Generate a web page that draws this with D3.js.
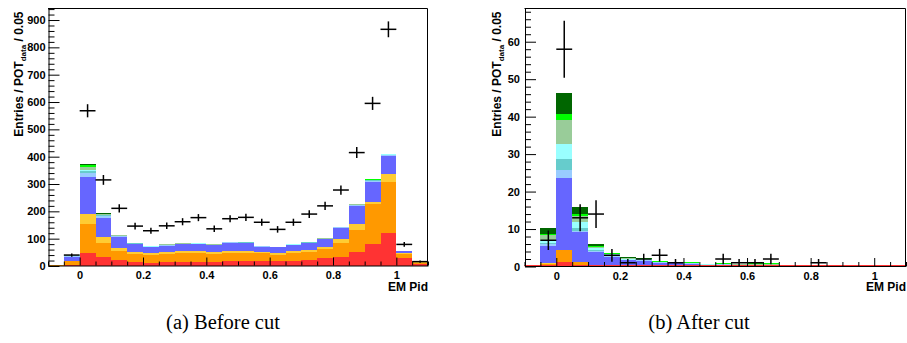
<!DOCTYPE html>
<html><head><meta charset="utf-8">
<script src="https://cdn.jsdelivr.net/npm/d3@7"></script>
<style>body{margin:0;background:#fff} svg{display:block}</style>
</head><body>
<svg id="c" width="907" height="343"></svg>
<script>
// ---------- data ----------
const binLow = [-0.10,-0.05,0.00,0.05,0.10,0.15,0.20,0.25,0.30,0.35,0.40,0.45,0.50,0.55,0.60,0.65,0.70,0.75,0.80,0.85,0.90,0.95,1.00,1.05];
const binWidth = 0.05;
const layerNames  = ["red","orange","yellow","blue","lightblue","teal","cyan","lightgreen","green","darkgreen"];
const layerColors = ["#ff3333","#ff9900","#ffcc33","#6666ff","#99ccff","#66cccc","#99ffff","#99cc99","#00ff00","#006600"];

// (a) Before cut — stacked MC components
const beforeRed        = [1,4,49,34,22,16,12,14,16,16,16,19,18,18,17,19,22,28,34,52,80,122,30,6];
const beforeOrange     = [2,15,105,51,33,28,28,30,30,30,28,30,31,28,25,30,29,33,51,80,147,186,13,6];
const beforeYellow     = [0.5,1,36,20,12,8,6,7,9,9,6,7,7,4,4,6,8,10,13,22,8,29,3,1];
const beforeBlue       = [0.5,14,137,72,38,28,22,24,24,24,26,29,28,21,23,22,24,27,42,66,74,67,8,1];
const beforeLightBlue  = [0,3,14,5,3,2,2,2,1.5,2,1.5,1.5,1.5,1,1,1,2,1.5,1.5,3,3,2,1,0];
const beforeTeal       = [0,1,5,3,1,1,1,1,0.5,1,0.5,0.5,0.5,0.3,0.3,0.5,1,0.5,0.5,1,1,1,0.3,0];
const beforeCyan       = [0,1,7,2,1,0.5,1,0.5,0.5,1,0.5,0.5,0.5,0.2,0.2,0.5,0.5,0.5,0.5,1,1,1,0.2,0];
const beforeLightGreen = [0,1,10,3,2,1,1,1,1,1,1,1,1,0.3,0.3,0.5,1,1,1,1,2,1,0.3,0];
const beforeGreen      = [0,1,5,2,1,0.5,1,0.5,0.5,1,0.5,0.5,0.5,0.2,0.2,0.5,0.5,0.5,0.5,1,1,1,0.2,0];
const beforeDarkGreen  = [0,1,5,1,0,0,0,0,0,0,0,0,0,0,0,0,0,0,0,0,0,0,0,0];
const beforeData       = [0,40,568,315,211,146,129,147,162,177,136,173,178,160,134,160,190,220,278,415,595,866,79,16];
const beforeErr        = [0,6,24,18,15,12,11,12,13,13,12,13,13,13,12,13,14,15,17,20,24,29,9,4];

// (b) After cut
const afterRed        = [0,0.2,1.3,0.4,0.1,0.05,0.05,0.05,0.02,0.02,0.02,0,0,0,0,0,0,0,0,0,0,0,0,0];
const afterOrange     = [0,0.6,3.1,0.7,0.3,0.15,0.1,0.1,0.05,0.05,0.05,0,0,0,0,0,0,0,0,0,0,0,0,0];
const afterYellow     = [0,0.1,0.1,0.1,0,0,0,0,0,0,0,0,0,0,0,0,0,0,0,0,0,0,0,0];
const afterBlue       = [0,4.5,19.2,7.9,3.5,2.4,1.5,1.4,0.9,0.8,0.7,0.4,0.5,0.3,0.3,0.3,0.2,0.2,0.3,0.2,0.2,0.1,0,0];
const afterLightBlue  = [0,0.5,2.0,0.3,0.2,0.2,0.1,0.1,0.1,0.05,0.05,0.05,0.05,0.05,0.05,0.05,0,0,0,0,0,0,0,0];
const afterTeal       = [0,0.4,3.1,0.8,0.3,0.2,0.1,0.1,0.05,0.05,0.05,0.05,0.05,0.05,0.05,0.05,0,0,0,0,0,0,0,0];
const afterCyan       = [0,0.5,4.0,1.8,0.5,0.3,0.2,0.2,0.1,0.1,0.1,0.2,0.1,0.05,0.1,0.1,0.05,0.05,0.05,0,0,0,0,0];
const afterLightGreen = [0,1.5,6.2,1.5,0.4,0.1,0.2,0.1,0.1,0.05,0.05,0.05,0.1,0.1,0.1,0.3,0.05,0.05,0.05,0.1,0.1,0,0,0];
const afterGreen      = [0,0.3,1.8,0.5,0.2,0.1,0.1,0.1,0.05,0.05,0.05,0.05,0.1,0.1,0.3,0.1,0,0,0,0,0,0,0,0];
const afterDarkGreen  = [0,1.6,5.5,1.9,0.6,0.1,0.1,0.05,0,0,0,0,0.1,0,0,0,0,0,0,0,0,0,0,0];
const afterData       = [0,7,58,13,14,3,1,2,3,1,0,0,2,1,1,2,0,0,1,0,0,0,0,0];
const afterErr        = [0,2.6,7.6,3.6,3.7,1.7,1,1.4,1.7,1,0,0,1.4,1,1,1.4,0,0,1,0,0,0,0,0];

const xMajorTicks = [0,0.2,0.4,0.6,0.8,1];
const xMinorTicks = [-0.1,-0.05,0.05,0.1,0.15,0.25,0.3,0.35,0.45,0.5,0.55,0.65,0.7,0.75,0.85,0.9,0.95,1.05,1.1];
const yMajorBefore = [0,100,200,300,400,500,600,700,800,900];
const yMajorAfter  = [0,10,20,30,40,50,60];
const xTitle = "EM Pid";
const captions = ["(a) Before cut","(b) After cut"];

// ---------- drawing ----------
const svg = d3.select("#c");
const labelFont = "'Liberation Sans', Arial, Helvetica, sans-serif";

function buildRows(layers){
  return binLow.map((lo,i)=>{
    const r = {lo};
    layerNames.forEach((k,j)=>{ r[k] = layers[j][i]; });
    return r;
  });
}

function panel(o){
  const g = svg.append("g");
  const x = d3.scaleLinear().domain([-0.1,1.1]).range([o.x0,o.x1]);
  const y = d3.scaleLinear().domain([0,o.ymax]).range([o.y0,o.y1]);

  const stack = d3.stack().keys(layerNames)(buildRows(o.layers));
  stack.forEach((layer,j)=>{
    g.append("g").attr("fill",layerColors[j]).attr("shape-rendering","crispEdges")
      .selectAll("rect").data(layer.filter(d=>d[1]-d[0]>0)).join("rect")
      .attr("x",d=>x(d.data.lo))
      .attr("width",d=>x(d.data.lo+binWidth)-x(d.data.lo))
      .attr("y",d=>y(d[1]))
      .attr("height",d=>Math.max(0,y(d[0])-y(d[1])));
  });

  if(o.redBase){
    g.append("line").attr("x1",o.x0).attr("x2",o.x1)
      .attr("y1",y(0)-0.8).attr("y2",y(0)-0.8)
      .attr("stroke","#ff3333").attr("stroke-width",1.5);
  }

  // frame
  g.append("path").attr("d",`M${o.x0},${o.y1+0.5}H${o.x1-0.5}V${o.y0}`)
    .attr("fill","none").attr("stroke","#000").attr("stroke-width",1);

  // y axis
  const yMinor = d3.range(0,o.ymax,o.yMinorStep).filter(v=>!o.yMajor.includes(v));
  const ya = g.append("g").attr("transform",`translate(${o.x0+0.5},0)`)
    .call(d3.axisLeft(y).tickValues(o.yMajor).tickSize(-11).tickSizeOuter(0).tickPadding(o.yPad).tickFormat(d3.format("d")));
  g.append("g").attr("transform",`translate(${o.x0+0.5},0)`)
    .call(d3.axisLeft(y).tickValues(yMinor).tickSize(-6).tickSizeOuter(0).tickFormat(""))
    .select(".domain").remove();
  ya.select(".domain").attr("stroke","#000");

  // x axis
  const xa = g.append("g").attr("transform",`translate(0,${o.y0-0.5})`)
    .call(d3.axisBottom(x).tickValues(xMajorTicks).tickSize(-8).tickSizeOuter(0).tickPadding(5.7).tickFormat(d=>d3.format("~g")(d)));
  g.append("g").attr("transform",`translate(0,${o.y0-0.5})`)
    .call(d3.axisBottom(x).tickValues(xMinorTicks).tickSize(-4).tickSizeOuter(0).tickFormat(""))
    .select(".domain").remove();

  g.selectAll(".tick line").attr("stroke","#000");
  g.selectAll(".tick text").attr("font-family",labelFont).attr("font-weight","bold")
    .attr("font-size",11).attr("fill","#000");

  // data points
  const pts = binLow.map((lo,i)=>({lo,v:o.data[i],e:o.err[i]})).filter(d=>d.v>0);
  const dp = g.append("g").attr("stroke","#000").attr("stroke-width",1.5);
  dp.selectAll("line.h").data(pts).join("line").attr("class","h")
    .attr("x1",d=>x(d.lo)).attr("x2",d=>x(d.lo+binWidth))
    .attr("y1",d=>y(d.v)).attr("y2",d=>y(d.v));
  dp.selectAll("line.v").data(pts).join("line").attr("class","v")
    .attr("x1",d=>x(d.lo+binWidth/2)).attr("x2",d=>x(d.lo+binWidth/2))
    .attr("y1",d=>y(Math.max(0,d.v-d.e))).attr("y2",d=>y(d.v+d.e));

  // axis titles
  g.append("text").attr("x",o.x1).attr("y",290.7).attr("text-anchor","end")
    .attr("font-family",labelFont).attr("font-weight","bold").attr("font-size",12)
    .text(xTitle);
  const yt = g.append("text")
    .attr("transform",`translate(${o.titleX},${o.y1+3.5}) rotate(-90)`)
    .attr("text-anchor","end")
    .attr("font-family",labelFont).attr("font-weight","bold").attr("font-size",12);
  yt.append("tspan").text("Entries / POT");
  yt.append("tspan").attr("font-size",8).attr("dy",3).text("data");
  yt.append("tspan").attr("dy",-3).text(" / 0.05");

  // caption
  svg.append("text").attr("x",o.capX).attr("y",329).attr("text-anchor","middle")
    .attr("font-family","'Liberation Serif','Times New Roman',serif").attr("font-size",20.5)
    .text(o.caption);
}

panel({x0:48,x1:428,y0:266,y1:8,ymax:944,yMajor:yMajorBefore,yMinorStep:20,yPad:3,
  layers:[beforeRed,beforeOrange,beforeYellow,beforeBlue,beforeLightBlue,beforeTeal,beforeCyan,beforeLightGreen,beforeGreen,beforeDarkGreen],
  data:beforeData,err:beforeErr,titleX:22.5,capX:223,caption:captions[0],redBase:false});
panel({x0:524.5,x1:906,y0:266.5,y1:8,ymax:69,yMajor:yMajorAfter,yMinorStep:2,yPad:5,
  layers:[afterRed,afterOrange,afterYellow,afterBlue,afterLightBlue,afterTeal,afterCyan,afterLightGreen,afterGreen,afterDarkGreen],
  data:afterData,err:afterErr,titleX:500.5,capX:699,caption:captions[1],redBase:true});
</script>
</body></html>
